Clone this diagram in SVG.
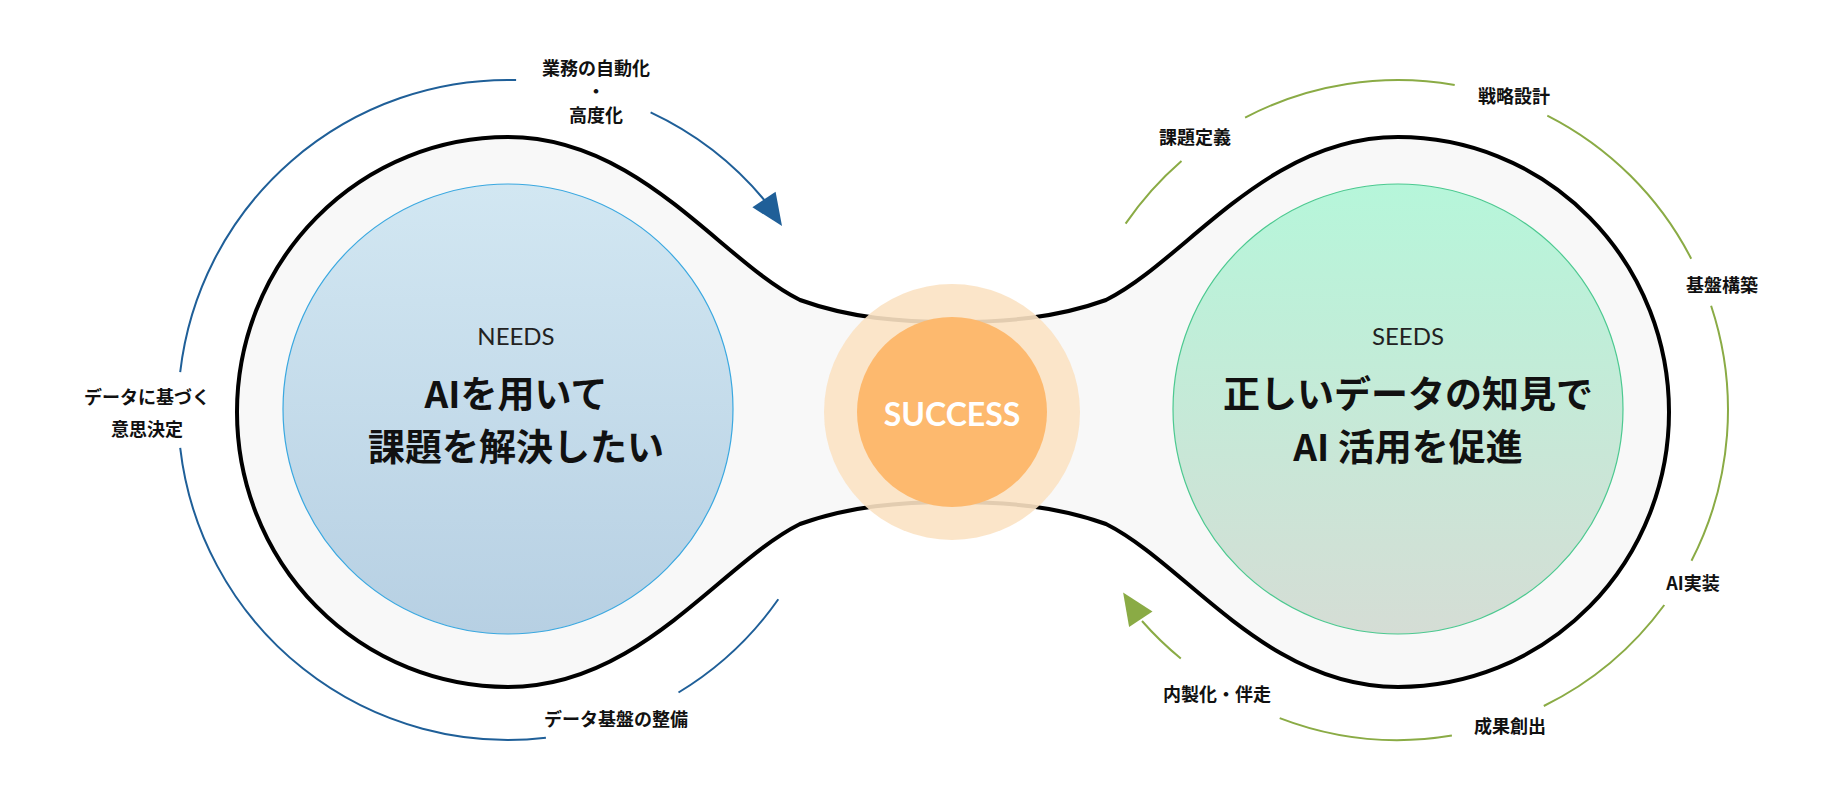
<svg xmlns="http://www.w3.org/2000/svg" width="1840" height="810" viewBox="0 0 1840 810">
<defs>
<linearGradient id="gb" x1="0" y1="0" x2="0" y2="1"><stop offset="0" stop-color="#d2e7f2"/><stop offset="1" stop-color="#b7d0e3"/></linearGradient>
<linearGradient id="gg" x1="0" y1="0" x2="0" y2="1"><stop offset="0" stop-color="#b6f6da"/><stop offset="1" stop-color="#d5ddd5"/></linearGradient>
<style>
.lbl{font-family:"Noto Sans CJK JP","Noto Sans",sans-serif;font-weight:700;font-size:18px;fill:#111;text-anchor:middle;dominant-baseline:central}
.big{font-family:"Noto Sans CJK JP","Noto Sans",sans-serif;font-weight:700;font-size:37px;fill:#111;text-anchor:middle;dominant-baseline:central}
.hd{font-family:Lato,"Noto Sans",sans-serif;font-size:24px;fill:#222;text-anchor:middle;dominant-baseline:central}
.blue{fill:none;stroke:#1f5f98;stroke-width:2}
.green{fill:none;stroke:#8aab45;stroke-width:2}
</style>
</defs>
<g id="blob">
<path d="M508 137 C640 137 720 260 800 300 C850 318 900 322 953 322 C1006 322 1056 318 1106 300 C1186 260 1266 137 1398 137 A271 275 0 0 1 1398 687 C1266 687 1186 564 1106 524 C1056 506 1006 502 953 502 C900 502 850 506 800 524 C720 564 640 687 508 687 A271 275 0 0 1 508 137 Z" fill="#f8f8f8" stroke="#000" stroke-width="4"/>
</g>
<g id="needs">
<circle cx="508" cy="409" r="225" fill="url(#gb)" stroke="#3aa8e0" stroke-width="1.2"/>
<text class="hd" x="516" y="335">NEEDS</text>
<text class="big" x="516" y="392">AIを用いて</text>
<text class="big" x="516" y="445">課題を解決したい</text>
</g>
<g id="seeds">
<circle cx="1398" cy="409" r="225" fill="url(#gg)" stroke="#4cc990" stroke-width="1.2"/>
<text class="hd" x="1408" y="335">SEEDS</text>
<text class="big" x="1408" y="392">正しいデータの知見で</text>
<text class="big" x="1408" y="445">AI 活用を促進</text>
</g>
<g id="success">
<circle cx="952" cy="412" r="128" fill="#fbe2c3" opacity="0.9"/>
<circle cx="952" cy="412" r="95" fill="#fdb96e"/>
<text x="952" y="413" font-family="Lato,'Noto Sans',sans-serif" font-weight="700" font-size="32" fill="#fff" text-anchor="middle" dominant-baseline="central">SUCCESS</text>
</g>
<g id="connectors">
<path class="blue" d="M516.1 80.1 A330 330 0 0 0 180.2 372.1"/>
<path class="blue" d="M180.2 447.9 A330 330 0 0 0 545.9 737.8"/>
<path class="blue" d="M678.5 692.5 A330 330 0 0 0 778.3 599.3"/>
<path class="blue" d="M650.6 112.4 A330 330 0 0 1 766 202"/>
<polygon points="782,226 775.6,191.7 752.4,207.3" fill="#1f5f98"/>
<path class="green" d="M1125.6 223.6 A330 330 0 0 1 1181.5 160.9"/>
<path class="green" d="M1245.1 117.6 A330 330 0 0 1 1454.7 84.9"/>
<path class="green" d="M1547.3 115.6 A330 330 0 0 1 1691.2 258.7"/>
<path class="green" d="M1711.1 305.8 A330 330 0 0 1 1691.5 560.8"/>
<path class="green" d="M1664.3 605 A330 330 0 0 1 1543.8 706"/>
<path class="green" d="M1451.9 735.6 A330 330 0 0 1 1279.7 718.1"/>
<path class="green" d="M1180.8 658.5 A330 330 0 0 1 1142 621"/>
<polygon points="1123.1,592.5 1152.5,611.5 1129.1,626.9" fill="#8aab45"/>
</g>
<g id="labels">
<text class="lbl" x="596" y="67">業務の自動化</text>
<text class="lbl" x="596" y="90">・</text>
<text class="lbl" x="596" y="114">高度化</text>
<text class="lbl" x="147" y="396">データに基づく</text>
<text class="lbl" x="147" y="428">意思決定</text>
<text class="lbl" x="616" y="718">データ基盤の整備</text>
<text class="lbl" x="1195" y="136">課題定義</text>
<text class="lbl" x="1514" y="95">戦略設計</text>
<text class="lbl" x="1722" y="284">基盤構築</text>
<text class="lbl" x="1693" y="582">AI実装</text>
<text class="lbl" x="1510" y="725">成果創出</text>
<text class="lbl" x="1217" y="693">内製化・伴走</text>
</g>
</svg>
